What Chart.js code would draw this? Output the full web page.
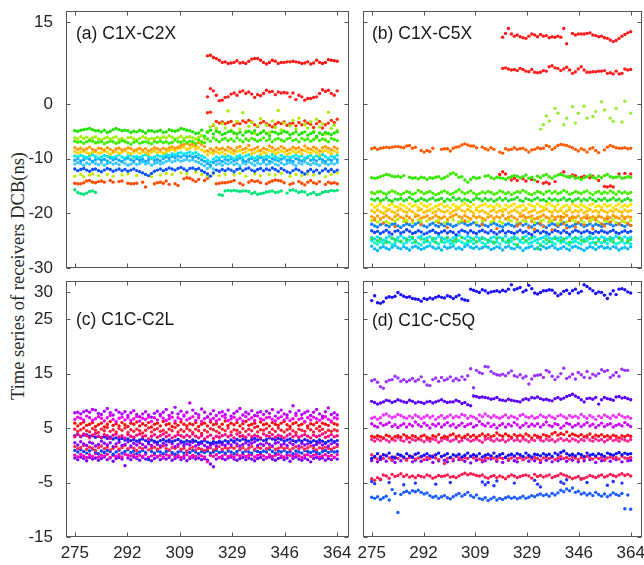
<!DOCTYPE html>
<html>
<head>
<meta charset="utf-8">
<script src="https://cdn.jsdelivr.net/npm/chart.js@4.4.1/dist/chart.umd.min.js"></script>
<style>
  body { margin: 0; background: #fff; width: 644px; height: 565px; overflow: hidden; position: relative; }
  canvas { position: absolute; left: 0; top: 0; }
  .ptitle { position: absolute; font-family: 'Liberation Sans', Arial, sans-serif; font-size: 17.5px; line-height: 17px; color: #1a1a1a; white-space: nowrap; }
  #ytitle { position: absolute; left: 18px; top: 276px; transform: translate(-50%, -50%) rotate(-90deg); font-family: 'Liberation Serif', 'Times New Roman', serif; font-size: 18.5px; color: #262626; white-space: nowrap; }
</style>
</head>
<body>
<div id="ytitle">Time series of receivers DCB(ns)</div>
<canvas id="ca" width="644" height="565"></canvas>
<canvas id="cb" width="644" height="565"></canvas>
<canvas id="cc" width="644" height="565"></canvas>
<canvas id="cd" width="644" height="565"></canvas>
<div class="ptitle" style="left:76px;top:25px">(a) C1X-C2X</div>
<div class="ptitle" style="left:372px;top:25px">(b) C1X-C5X</div>
<div class="ptitle" style="left:76px;top:311px">(c) C1C-C2L</div>
<div class="ptitle" style="left:372px;top:312px">(d) C1C-C5Q</div>
<script>
// day of year, one point per receiver per day
const days = [];
for (let d = 275; d <= 364; d++) days.push(d);
const xTickLabels = ['275', '292', '309', '329', '346', '364'];
const yTicksTop = [15, 0, -10, -20, -30];
const yTicksBottom = [30, 25, 15, 5, -5, -15];

const n = null;
const gap = k => Array(k).fill(null);

// ---- (a) C1X-C2X ----
const aRed1 = [...gap(45),
  8.8,8.9,8.5,8.3,8.0,7.6,7.7,7.4,7.5,7.6,7.9,7.5,7.6,7.4,7.8,8.2,8.3,8.3,8.0,7.6,
  7.3,7.6,8.0,7.8,7.4,7.6,7.6,7.7,7.7,7.8,7.7,7.6,7.4,7.5,7.7,7.3,7.5,8.0,7.6,7.4,
  7.6,8.1,8.0,7.9,7.8];
const aRed2 = [...gap(45),
  1.3,2.8,2.4,1.6,0.6,0.7,1.2,1.3,1.8,2.0,1.6,2.2,2.4,1.9,2.2,1.8,1.2,1.7,1.5,1.9,
  2.5,2.2,2.3,1.7,2.2,2.0,2.1,2.0,1.3,2.0,0.8,1.6,1.3,0.7,1.0,1.0,1.2,1.3,1.9,2.6,
  2.3,2.5,1.9,1.6,2.4];
const aRed3 = [...gap(45),
  -1.6,-1.5,-3.9,-3.2,-3.5,-3.3,-3.6,-3.4,-3.2,-3.9,-3.5,-3.6,-3.1,-3.4,-3.0,-3.3,-3.8,-4.1,-3.5,-3.2,
  -3.6,-3.9,-4.2,-3.7,-3.4,-3.6,-3.3,-3.9,-3.6,-3.5,-4.0,-3.4,-3.8,-3.1,-3.5,-3.7,-4.3,-3.6,-3.2,-4.4,
  -3.8,-3.5,-3.0,-3.4,-2.8];
const aGreen1 = [
  -4.9,-5.0,-4.8,-4.7,-4.6,-4.5,-4.7,-4.9,-4.9,-5.1,-4.8,-5.2,-5.0,-4.7,-4.5,-4.7,-4.9,-4.8,-4.9,-5.2,
  -5.0,-5.1,-4.8,-5.0,-5.3,-4.9,-4.9,-5.1,-5.0,-4.8,-5.2,-5.1,-4.7,-4.9,-5.0,-4.8,-4.5,-4.6,-4.8,-4.9,
  -5.1,-5.4,-5.3,-4.8,-5.9,-5.2,-4.8,-5.5,-5.0,-5.2,-5.6,-5.4,-5.1,-5.0,-5.3,-5.5,-5.2,-5.7,-5.2,-5.0,
  -5.3,-4.9,-5.6,-5.3,-5.0,-5.4,-5.8,-5.1,-5.2,-5.5,-5.3,-5.0,-5.2,-5.6,-5.4,-5.1,-5.6,-5.3,-5.1,-5.7,
  -5.4,-5.2,-5.9,-5.3,-5.6,-5.2,-5.4,-5.6,-5.3,-5.1];
const aLime = [
  -6.2,-6.4,-6.0,-6.3,-6.1,-6.5,-6.2,-6.0,-6.4,-6.6,-6.3,-6.1,-6.4,-6.2,-6.0,-6.5,-6.3,-6.7,-6.2,-6.1,
  -6.4,-6.6,-6.3,-6.0,-6.2,-6.5,-6.3,-6.4,-6.1,-6.3,-6.0,-6.2,-5.8,-6.1,-6.4,-6.2,-5.9,-6.3,-6.1,-6.0,
  -6.2,-6.4,-6.1,-5.8,-6.3,-5.0,-4.2,-3.8,-4.5,-5.1,-3.6,-4.4,-1.3,-4.8,-5.3,-3.2,-4.6,-1.6,-5.0,-4.1,
  -3.4,-5.4,-4.0,-2.7,-4.9,-3.9,-5.2,-3.1,-4.3,-1.2,-4.7,-3.5,-5.1,-4.0,-3.0,-4.6,-2.6,-5.3,-3.8,-4.4,
  -3.3,-5.0,-2.8,-4.2,-3.6,-5.5,-1.5,-4.5,-3.9,-4.8];
const aGreen2 = [
  -6.8,-7.0,-6.9,-7.2,-6.9,-6.7,-6.8,-7.1,-7.0,-6.9,-7.3,-7.0,-6.8,-6.9,-7.2,-7.0,-6.7,-6.9,-7.1,-7.4,
  -7.0,-6.8,-7.2,-7.0,-6.9,-7.1,-7.3,-6.9,-7.0,-6.8,-7.1,-6.9,-7.2,-7.0,-6.6,-6.9,-7.0,-6.7,-7.1,-6.8,
  -6.9,-7.2,-6.6,-6.9,-7.1,-6.4,-6.8,-6.2,-6.6,-6.9,-6.5,-6.3,-6.7,-6.4,-6.8,-6.2,-6.6,-6.9,-6.4,-6.7,
  -6.3,-6.5,-6.8,-6.6,-6.2,-6.7,-6.4,-6.9,-6.5,-6.3,-6.6,-6.8,-6.4,-6.2,-6.7,-6.5,-6.9,-6.3,-6.6,-6.4,
  -6.8,-6.5,-6.2,-6.7,-6.4,-6.6,-6.9,-6.3,-6.5,-6.7];
const aOrange = [
  -8.0,-8.3,-8.1,-8.4,-8.2,-7.9,-8.3,-8.5,-8.1,-8.2,-8.4,-8.0,-8.3,-8.6,-8.2,-8.1,-8.4,-8.3,-8.0,-8.2,
  -8.5,-8.3,-8.1,-8.4,-8.2,-8.6,-8.3,-8.0,-8.2,-8.4,-8.1,-8.3,-8.0,-7.8,-8.1,-7.9,-7.6,-7.4,-7.2,-7.5,
  -7.3,-7.6,-7.1,-7.4,-7.8,-8.6,-8.2,-8.5,-8.0,-8.3,-8.1,-8.4,-7.9,-8.2,-8.5,-8.0,-7.8,-8.3,-8.1,-7.6,
  -8.4,-8.2,-7.9,-8.5,-8.1,-8.3,-7.7,-8.0,-8.4,-8.2,-7.8,-8.1,-8.5,-8.3,-7.9,-8.2,-8.0,-8.4,-7.7,-8.1,
  -8.3,-7.9,-8.2,-8.6,-8.0,-7.8,-8.1,-8.4,-7.9,-8.2];
const aYellow = [
  -8.7,-9.0,-8.8,-8.6,-8.9,-9.1,-8.8,-8.7,-9.0,-8.9,-8.6,-8.8,-9.2,-8.9,-8.7,-9.0,-8.8,-8.5,-8.9,-9.1,
  -8.8,-8.6,-9.0,-8.7,-8.9,-9.2,-8.8,-8.6,-8.9,-8.7,-9.0,-8.8,-8.5,-8.3,-8.6,-8.2,-8.0,-7.9,-8.3,-8.1,
  -7.8,-8.2,-8.0,-8.4,-8.7,-9.3,-8.9,-9.1,-8.7,-9.0,-8.8,-9.2,-8.6,-8.9,-9.1,-8.7,-8.5,-9.0,-8.8,-8.4,
  -9.1,-8.9,-8.6,-9.2,-8.8,-9.0,-8.5,-8.7,-9.1,-8.9,-8.6,-8.8,-9.2,-9.0,-8.6,-8.9,-8.7,-9.1,-8.5,-8.8,
  -9.0,-8.6,-8.9,-9.3,-8.7,-8.5,-8.8,-9.1,-8.6,-8.9];
const aCyan = [
  -9.5,-9.7,-9.4,-9.6,-9.8,-9.5,-9.3,-9.6,-9.9,-9.7,-9.4,-9.6,-9.5,-9.8,-9.6,-9.3,-9.7,-9.9,-9.5,-9.4,
  -9.7,-9.6,-9.8,-9.5,-9.3,-9.6,-9.9,-9.7,-9.4,-9.6,-9.5,-9.2,-9.4,-9.1,-9.3,-9.0,-8.9,-9.2,-9.0,-8.8,
  -9.1,-8.9,-9.3,-9.5,-9.8,-10.3,-10.6,-10.1,-9.7,-9.9,-9.6,-9.8,-9.5,-9.7,-10.0,-9.6,-9.4,-9.8,-9.5,-9.3,
  -9.7,-9.9,-9.6,-9.4,-9.8,-9.5,-9.7,-9.3,-9.6,-9.9,-9.4,-9.7,-9.5,-9.8,-9.6,-9.3,-9.7,-9.5,-9.9,-9.6,
  -9.4,-9.8,-9.5,-9.7,-9.3,-9.6,-9.9,-9.5,-9.7,-9.4];
const aSky = [
  -10.3,-10.0,-10.4,-10.2,-9.9,-10.1,-10.5,-10.2,-10.0,-10.3,-10.1,-10.4,-9.9,-10.2,-10.0,-10.3,-10.5,-10.1,-9.9,-10.2,
  -10.4,-10.0,-10.3,-10.1,-10.5,-10.2,-9.9,-10.3,-10.1,-10.4,-10.0,-9.7,-9.9,-9.6,-9.8,-9.5,-9.7,-9.4,-9.6,-9.5,
  -9.8,-9.6,-9.9,-10.2,-10.5,-10.9,-11.2,-10.7,-10.4,-10.2,-10.5,-10.1,-10.3,-10.0,-10.4,-10.2,-9.9,-10.3,-10.5,-10.1,
  -10.0,-10.4,-10.2,-9.8,-10.3,-10.1,-10.5,-10.0,-10.2,-10.4,-10.1,-9.9,-10.3,-10.2,-10.5,-10.0,-10.2,-10.4,-10.1,-9.8,
  -10.3,-10.1,-10.4,-10.0,-10.2,-10.5,-10.1,-10.3,-9.9,-10.2];
const aLightBlue = [
  -11.0,-10.7,-10.9,-11.2,-10.8,-11.0,-10.6,-10.9,-11.1,-10.8,-11.2,-10.9,-10.7,-11.0,-10.8,-11.1,-10.6,-10.9,-11.2,-11.0,
  -10.7,-11.1,-10.9,-10.6,-11.0,-10.8,-11.2,-10.9,-10.7,-11.0,-10.8,-10.5,-10.3,-10.6,-10.4,-10.2,-10.5,-10.3,-10.1,-10.4,
  -10.2,-10.5,-10.7,-11.0,-11.3,-11.8,-11.5,-11.9,-11.1,-10.9,-11.2,-10.8,-11.0,-10.7,-11.1,-10.9,-11.3,-10.8,-11.0,-10.6,
  -10.9,-11.2,-10.8,-11.0,-10.7,-11.1,-10.9,-10.6,-11.0,-11.2,-10.8,-11.1,-10.9,-10.7,-11.0,-11.3,-10.8,-11.0,-10.6,-10.9,
  -11.1,-10.8,-11.0,-11.2,-10.7,-10.9,-11.1,-10.8,-11.0,-10.7];
const aBlue = [
  -11.9,-12.2,-12.0,-11.8,-12.1,-12.3,-12.0,-11.9,-12.2,-12.4,-12.1,-11.8,-12.0,-12.3,-12.1,-11.9,-12.2,-12.0,-12.3,-12.1,
  -11.9,-12.2,-12.4,-12.6,-12.9,-13.1,-12.7,-12.3,-12.1,-11.9,-12.2,-12.0,-11.7,-11.9,-12.1,-11.8,-11.6,-11.9,-12.2,-11.8,
  -11.7,-12.0,-11.8,-12.2,-12.5,-12.8,-13.2,-12.6,-12.1,-12.3,-12.0,-12.2,-11.9,-12.1,-12.4,-12.0,-11.8,-12.2,-11.9,-11.7,
  -12.1,-12.3,-12.0,-11.8,-12.2,-11.9,-12.1,-11.7,-12.0,-12.3,-11.8,-12.1,-12.4,-12.6,-12.2,-11.9,-12.1,-12.5,-12.8,-12.3,
  -12.0,-12.4,-12.1,-12.6,-12.2,-11.9,-12.3,-12.0,-12.4,-12.1];
const aYG = [
  -13.2,n,-12.9,-13.3,n,-13.0,-12.8,n,-13.1,n,n,-12.9,n,-13.2,n,n,-13.0,n,-12.8,n,
  n,-13.1,n,n,-12.9,n,-13.3,n,n,-13.0,n,-12.7,n,-12.9,n,n,-12.6,n,-12.8,n,
  n,-12.5,n,-12.9,n,-13.2,n,-12.8,n,-13.1,n,-12.9,n,n,-13.0,n,-12.7,n,-13.2,n,
  n,-12.8,n,-13.1,n,n,-12.9,n,-13.0,n,-12.7,n,n,-13.2,n,-12.9,n,-13.1,n,-12.8,
  n,-13.0,n,-12.7,n,-13.3,n,-12.9,n,-12.6];
const aOrRed = [
  -14.5,-14.6,-14.6,-14.4,-14.1,-14.0,-14.3,-14.4,-14.2,-14.1,-14.3,n,-14.0,-14.3,n,-14.2,-14.1,n,-14.5,-14.6,
  -14.6,-14.5,n,-14.3,-15.2,n,n,-14.6,-14.4,-14.3,-14.5,-14.1,-14.7,n,-14.6,-14.9,n,-13.7,-13.5,-13.6,
  -13.9,-14.2,-13.8,n,-14.0,-13.6,n,n,-14.6,-14.5,-14.4,-14.4,-14.3,-14.2,-14.0,n,-14.5,-14.8,n,-14.3,
  -14.0,-14.2,-14.1,-14.4,n,-14.6,-14.3,-14.1,-13.9,-14.0,-14.1,-14.4,n,-14.7,-14.5,n,-14.2,-14.5,-14.8,-14.3,
  -14.0,-14.4,-14.6,-14.2,n,-14.7,-14.3,-14.5,-14.4,-14.6];
const aTeal = [-15.7,-16.2,-16.4,-16.5,-16.3,-16.0,-15.9,-16.2, ...gap(41),
  -16.6,-16.7,-15.9,-15.8,-15.9,-15.8,-15.9,-16.0,-15.9,-15.9,-16.0,-16.4,-16.2,-16.5,-16.4,-16.3,-16.1,-16.0,-15.9,-16.2,
  -16.1,-15.9,n,-16.3,-15.8,-15.7,-15.9,-16.2,-16.0,-16.1,-16.6,-16.4,-16.2,-16.6,-16.5,-16.2,-16.0,-16.0,-15.8,-15.9,-15.8];

// ---- (b) C1X-C5X ----
const bRed1 = [...gap(45),
  12.2,12.9,13.8,12.8,12.4,12.6,12.3,12.1,12.0,12.4,12.8,12.6,12.3,12.7,12.4,12.5,12.1,12.3,12.2,12.4,
  12.2,13.8,11.0,n,12.9,12.6,12.8,12.8,12.8,12.9,13.0,12.6,12.5,12.3,12.4,12.1,12.0,11.7,11.4,11.6,
  12.0,12.4,12.7,13.0,13.2];
const bRed2 = [...gap(45),
  6.5,6.6,6.4,6.2,6.3,6.1,6.5,6.3,6.0,5.9,6.3,5.8,5.7,5.8,6.1,6.0,6.8,7.0,6.6,6.5,
  6.1,6.4,6.7,6.2,5.6,5.9,6.4,6.8,6.2,5.8,5.8,5.9,5.9,6.0,6.0,6.1,5.6,5.7,5.5,6.0,
  5.5,5.6,6.4,6.2,6.3];
const bLime = [...gap(58),
  -4.6,-3.8,-2.2,-3.1,n,-0.8,-1.7,n,-3.8,-2.6,n,-0.5,-3.5,-1.7,n,-0.4,-2.6,n,-2.3,-1.4,
  n,0.4,-1.1,n,-2.6,-3.2,-0.8,n,-3.3,0.5,n,-1.7];
const bOrRed = [
  -8.2,-8.0,-8.3,-8.1,-8.0,-7.9,-8.0,-7.9,-7.8,-7.8,-7.9,-8.0,-7.7,-7.6,-8.1,-7.9,n,-8.5,-8.8,-8.5,
  -8.7,-8.1,n,n,-8.3,-8.2,-8.2,-8.6,-8.1,-7.9,-7.8,-7.5,-7.3,-7.5,-7.7,-7.7,-8.0,n,-7.9,-8.2,
  -8.4,-8.0,-8.3,n,-8.8,-9.0,-8.2,-8.4,-8.3,-8.0,-8.3,-8.2,-8.1,-8.4,-8.8,-8.4,-8.3,-8.0,-8.2,-8.1,
  -7.6,-7.8,-8.3,-8.0,-7.6,-7.4,-7.5,-7.6,-7.8,-8.0,-8.3,-8.6,-8.2,-8.4,-8.8,-8.2,-8.0,-8.5,-8.9,n,
  -8.4,-7.9,-7.6,-7.8,-8.0,-8.1,-8.1,-8.0,-8.2,-8.1];
const bGreen1 = [
  -13.5,-13.6,-13.5,-13.3,-13.1,-12.9,-13.0,-13.2,-13.3,-13.2,-13.4,-13.1,n,-13.4,-13.6,-13.5,-13.7,-13.4,-13.5,-13.8,
  -13.5,-13.6,-13.4,-13.3,-13.7,-13.5,-13.2,-12.8,-12.6,-12.9,-13.4,-13.3,-13.9,-14.3,-13.8,-13.4,-13.6,-13.5,n,-13.2,
  -13.1,-13.5,-13.7,-13.4,-13.5,-13.6,-13.8,-13.5,-13.3,-13.1,-13.2,-13.5,-13.3,-13.0,-13.6,-13.4,-13.9,-13.2,-13.5,-13.1,
  -12.9,-13.3,-13.6,-13.2,-13.0,-12.9,-13.1,-13.3,-13.4,-13.2,-13.6,-13.5,-13.8,-13.5,-13.3,-13.0,-13.4,-13.6,-13.2,-13.5,
  -13.1,-12.9,-13.3,-13.5,-13.4,-13.2,-13.6,-13.5,-13.3,-13.4];
const bRed3 = [...gap(44),
  -12.9,-12.4,-12.8,n,-13.9,-13.6,-14.0,n,-13.7,-14.1,n,-13.8,n,-14.2,n,-14.5,-14.3,-14.6,n,-14.2,
  n,-12.8,-12.4,n,-13.3,-13.0,-13.1,n,-13.4,-13.2,n,-13.5,-13.2,n,-14.0,n,-15.1,-15.2,-15.0,-15.2,
  n,-12.8,n,-12.7,n,-12.8];
const bGreen2 = [
  -16.2,-16.4,-16.1,-16.0,-16.3,-16.5,-16.2,-15.9,-16.1,-16.4,-16.6,-16.3,-16.0,-16.2,-16.5,-16.3,-15.8,-16.1,-16.4,-16.2,
  -16.0,-16.3,-16.6,-16.4,-16.1,-15.9,-16.2,-16.5,-16.3,-16.0,-15.7,-16.1,-16.4,-16.2,-15.9,-16.3,-16.6,-16.4,-16.1,-16.3,
  -16.0,-16.2,-16.5,-16.3,-15.9,-16.1,-16.4,-16.2,-16.6,-16.3,-16.0,-16.2,-15.8,-16.1,-16.4,-16.6,-16.3,-16.0,-16.2,-16.5,
  -16.1,-15.9,-16.3,-16.0,-16.4,-16.2,-15.8,-16.1,-16.5,-16.3,-16.0,-16.2,-16.4,-16.1,-15.9,-16.3,-16.6,-16.2,-16.0,-16.4,
  -16.1,-16.3,-15.9,-16.2,-16.5,-16.0,-16.3,-16.1,-16.4,-16.2];
const bGreen3 = [
  -17.4,-17.6,-17.3,-17.7,-17.5,-17.2,-17.6,-17.8,-17.4,-17.5,-17.3,-17.7,-17.5,-17.1,-17.4,-17.8,-17.6,-17.3,-17.5,-17.7,
  -17.4,-17.2,-17.6,-17.5,-17.3,-17.8,-17.4,-17.6,-17.1,-17.5,-17.3,-17.7,-17.4,-17.6,-17.9,-17.5,-17.2,-17.4,-17.7,-17.3,
  -17.6,-17.4,-17.8,-17.5,-17.2,-17.6,-17.3,-17.7,-17.5,-17.4,-17.1,-17.6,-17.8,-17.3,-17.5,-17.7,-17.4,-17.2,-17.6,-17.5,
  -17.8,-17.3,-17.6,-17.4,-17.7,-17.5,-17.2,-17.6,-17.4,-17.8,-17.5,-17.3,-17.7,-17.4,-17.6,-17.2,-17.5,-17.8,-17.4,-17.6,
  -17.3,-17.7,-17.5,-17.2,-17.6,-17.4,-17.8,-17.5,-17.3,-17.6];
const bYellow = [
  -18.4,-18.9,-18.6,-18.2,-18.8,-19.1,-18.5,-18.3,-18.7,-18.9,-18.4,-18.6,-19.0,-18.3,-18.7,-18.5,-18.9,-18.2,-18.6,-18.8,
  -18.4,-19.1,-18.7,-18.5,-18.3,-18.8,-18.6,-19.0,-18.4,-18.7,-18.9,-18.5,-18.2,-18.6,-18.8,-18.4,-19.0,-18.7,-18.5,-18.3,
  -18.8,-18.6,-18.9,-18.4,-18.7,-19.2,-18.5,-18.8,-18.6,-18.3,-18.9,-18.7,-18.5,-19.0,-18.4,-18.6,-18.8,-18.3,-18.7,-18.9,
  -18.5,-18.2,-18.6,-18.8,-18.4,-19.1,-18.7,-18.5,-18.9,-18.3,-18.6,-18.8,-18.4,-18.7,-19.0,-18.5,-18.3,-18.8,-18.6,-18.9,
  -18.4,-18.7,-18.5,-19.0,-18.6,-18.3,-18.8,-18.5,-18.7,-18.4];
const bGold = [
  -19.5,-19.8,-19.4,-19.7,-20.0,-19.6,-19.3,-19.7,-19.9,-19.5,-19.2,-19.6,-19.8,-19.4,-19.7,-20.1,-19.5,-19.3,-19.8,-19.6,
  -19.4,-19.9,-19.7,-19.3,-19.6,-19.8,-19.5,-20.0,-19.6,-19.4,-19.1,-19.5,-19.7,-19.3,-19.6,-19.9,-19.4,-19.7,-19.5,-19.8,
  -20.1,-19.6,-19.4,-19.8,-19.5,-19.7,-19.3,-19.9,-19.6,-19.4,-19.7,-20.0,-19.5,-19.3,-19.8,-19.6,-19.4,-19.9,-19.7,-19.5,
  -19.2,-19.6,-19.8,-19.4,-19.7,-19.5,-20.0,-19.6,-19.3,-19.8,-19.5,-19.7,-19.4,-19.9,-19.6,-19.3,-19.7,-19.5,-19.8,-19.4,
  -19.6,-19.9,-19.5,-19.7,-19.3,-19.6,-19.8,-19.4,-19.7,-19.5];
const bOrange = [
  -20.6,-20.9,-20.5,-21.0,-20.7,-20.4,-20.8,-21.1,-20.6,-20.3,-20.7,-20.9,-20.5,-20.8,-21.2,-20.6,-20.4,-20.9,-20.7,-20.5,
  -21.0,-20.8,-20.4,-20.7,-20.9,-20.6,-21.1,-20.7,-20.5,-20.2,-20.6,-20.8,-20.4,-20.7,-21.0,-20.5,-20.8,-20.6,-20.9,-21.2,
  -20.7,-20.5,-20.9,-20.6,-20.8,-20.4,-21.0,-20.7,-20.5,-20.8,-21.1,-20.6,-20.4,-20.9,-20.7,-20.5,-21.0,-20.8,-20.6,-20.3,
  -20.7,-20.9,-20.5,-20.8,-20.6,-21.1,-20.7,-20.4,-20.9,-20.6,-20.8,-20.5,-21.0,-20.7,-20.4,-20.8,-20.6,-20.9,-20.5,-20.7,
  -21.0,-20.6,-20.8,-20.4,-20.7,-20.9,-20.5,-20.8,-20.6,-20.7];
const bLime2 = [
  -21.3,n,-21.6,-21.2,n,-21.5,-21.8,n,-21.4,-21.1,n,-21.5,-21.3,n,-21.7,n,-21.2,-21.6,n,-21.4,
  -21.0,n,-21.5,-21.3,n,-21.8,-21.4,n,-21.2,n,-21.6,-21.3,n,-21.5,-21.1,n,-21.7,n,-21.4,-21.2,
  n,-21.6,-21.3,n,-21.5,-21.8,n,-21.2,-21.4,n,-21.6,n,-21.3,-21.5,n,-21.1,-21.7,n,-21.4,-21.2,
  n,-21.5,-21.3,n,-21.8,-21.4,n,-21.6,n,-21.2,-21.5,n,-21.3,-21.7,n,-21.4,-21.1,n,-21.6,n,
  -21.3,-21.5,n,-21.2,-21.7,n,-21.4,-21.6,n,-21.3];
const bOrange2 = [
  n,-21.2,n,n,-21.8,n,n,n,-22.4,n,n,n,-21.5,n,n,n,n,-22.0,n,n,
  n,n,n,-21.7,n,n,-22.6,n,n,n,n,n,-21.4,n,n,n,n,n,-22.1,n,
  n,n,n,-22.8,n,n,n,n,n,n,-22.3,-21.9,-20.5,-20.8,-22.6,-21.4,-22.9,-20.9,-21.8,-22.4,
  -20.7,-21.6,-23.0,-21.1,-22.2,-20.6,-21.9,-22.7,-21.3,-20.8,-22.5,-21.7,n,-22.1,-20.9,-21.5,-22.8,-21.2,-20.6,-21.9,
  -22.3,-21.0,-21.6,n,-20.7,-22.0,-21.4,-20.9,-21.8,-22.2];
const bBlue1 = [
  -22.0,-22.3,-22.5,-22.1,-21.8,-22.2,-22.4,-22.0,-21.9,-22.3,-22.6,-22.2,-21.9,-22.1,-22.4,-22.0,-21.7,-22.1,-22.3,-22.5,
  -22.1,-21.8,-22.2,-22.4,-22.0,-22.3,-21.9,-22.1,-22.4,-22.2,-21.8,-21.6,-21.9,-22.2,-22.0,-21.7,-22.1,-22.3,-21.9,-22.2,
  -22.4,-22.0,-21.8,-22.1,-22.3,-22.5,-22.1,-21.9,-22.2,-22.4,-22.0,-21.8,-22.2,-21.9,-22.3,-22.5,-22.1,-21.8,-22.0,-22.3,
  -22.6,-22.2,-21.9,-22.1,-22.4,-22.0,-21.7,-22.2,-22.5,-22.3,-22.0,-21.8,-22.1,-22.4,-22.2,-21.9,-22.3,-22.0,-22.2,-22.4,
  -22.1,-21.8,-22.0,-22.3,-22.1,-21.9,-22.2,-22.4,-22.0,-22.2];
const bBlue2 = [
  -23.2,-23.5,-23.3,-23.7,-23.4,-23.1,-23.5,-23.8,-23.3,-23.2,-23.6,-23.4,-23.0,-23.3,-23.7,-23.5,-23.2,-23.4,-23.8,-23.6,
  -23.3,-23.1,-23.5,-23.7,-23.4,-23.2,-23.6,-23.3,-23.5,-23.9,-23.4,-23.1,-23.3,-23.6,-23.2,-23.5,-23.7,-23.3,-23.1,-23.4,
  -23.6,-23.2,-23.5,-23.8,-23.4,-23.2,-23.6,-23.3,-23.5,-23.7,-23.4,-23.1,-23.5,-23.3,-23.7,-23.9,-23.4,-23.2,-23.6,-23.3,
  -23.5,-23.8,-23.4,-23.1,-23.3,-23.6,-23.2,-23.5,-23.8,-23.4,-23.1,-23.3,-23.6,-23.4,-23.2,-23.5,-23.7,-23.3,-23.5,-23.2,
  -23.4,-23.6,-23.3,-23.1,-23.5,-23.7,-23.4,-23.2,-23.5,-23.3];
const bGreen4 = [
  -24.6,n,-25.0,-24.7,n,-25.3,n,-24.5,-24.9,n,-25.1,n,-24.8,n,-24.4,-25.2,n,-24.7,n,-25.0,
  n,-24.6,-25.3,n,-24.9,n,-24.5,n,-25.1,-24.8,n,-24.4,n,-25.0,n,-24.7,-25.2,n,-24.6,n,
  -24.9,n,-25.3,-24.5,n,-24.8,n,-25.1,n,-24.7,-25.8,n,-24.6,-25.0,n,-24.4,n,-26.5,-25.9,n,
  -24.8,-25.2,n,-24.6,n,-25.0,-24.7,n,-25.3,n,-24.5,n,-24.9,-25.1,n,-24.6,n,-25.4,-24.8,n,
  -25.0,n,-24.7,-25.2,n,-24.5,-24.9,n,-25.1,-24.8];
const bCyan = [
  -24.4,-24.7,-24.3,-24.6,-24.9,-24.5,-24.2,-24.6,-24.8,-24.4,-24.1,-24.5,-24.7,-24.3,-24.6,-25.0,-24.4,-24.2,-24.7,-24.5,
  -24.3,-24.8,-24.6,-24.2,-24.5,-24.7,-24.4,-24.9,-24.5,-24.3,-24.0,-24.4,-24.6,-24.2,-24.5,-24.8,-24.3,-24.6,-24.4,-24.7,
  -25.0,-24.5,-24.3,-24.7,-24.4,-24.6,-24.2,-24.8,-24.5,-24.3,-24.6,-24.9,-24.4,-24.2,-24.7,-24.5,-24.3,-24.8,-24.6,-24.4,
  -24.1,-24.5,-24.7,-24.3,-24.6,-24.4,-24.9,-24.5,-24.2,-24.7,-24.4,-24.6,-24.3,-24.8,-24.5,-24.2,-24.6,-24.4,-24.7,-24.3,
  -24.5,-24.8,-24.4,-24.6,-24.2,-24.5,-24.7,-24.3,-24.6,-24.4];
const bAqua = [
  -25.0,-25.4,-25.6,-25.2,-25.5,-25.1,-25.3,-25.7,-25.4,-25.0,-25.2,-25.6,-25.3,-24.9,-25.4,-25.2,-25.5,-25.8,-25.3,-25.1,
  -25.4,-25.0,-25.3,-25.6,-25.2,-25.4,-25.1,-25.5,-25.7,-25.2,-25.0,-25.3,-25.6,-25.4,-25.1,-25.5,-25.2,-25.0,-25.4,-25.7,
  -25.3,-25.1,-25.5,-25.2,-25.6,-25.0,-25.3,-25.4,-25.1,-25.6,-25.8,-25.2,-25.4,-25.1,-25.5,-25.3,-25.0,-25.4,-25.7,-25.2,
  -25.5,-25.1,-25.3,-25.6,-25.0,-25.4,-25.2,-25.5,-25.8,-25.3,-25.1,-25.4,-25.6,-25.2,-25.0,-25.5,-25.3,-25.7,-25.1,-25.4,
  -25.2,-25.5,-25.0,-25.3,-25.6,-25.4,-25.1,-25.5,-25.3,-25.6];
const bSky = [
  -26.0,-26.5,-26.8,-26.3,-26.1,-26.4,-26.6,-26.2,-25.9,-26.3,-26.5,-26.1,-26.4,-26.7,-26.2,-26.0,-26.3,-26.6,-26.4,-26.1,
  -25.9,-26.2,-26.5,-26.3,-26.7,-26.1,-26.4,-26.2,-26.0,-26.5,-26.3,-26.6,-26.1,-25.8,-26.2,-26.4,-26.1,-26.5,-26.3,-26.0,
  -26.2,-26.6,-26.4,-26.1,-26.3,-26.7,-26.2,-26.0,-26.4,-26.5,-26.1,-26.3,-26.8,-26.4,-26.2,-26.0,-26.5,-26.3,-26.6,-26.1,
  -26.4,-26.2,-25.9,-26.3,-26.6,-26.4,-26.1,-26.5,-26.7,-26.2,-26.0,-26.3,-26.5,-26.8,-26.4,-26.1,-26.3,-26.6,-26.2,-26.0,
  -26.4,-26.2,-26.5,-26.1,-26.3,-26.7,-26.4,-26.2,-26.5,-26.1];

// ---- (c) C1C-C2L ----
const cViolet1 = [
  7.8,7.9,7.6,8.0,8.2,7.9,8.4,8.3,7.7,7.5,8.1,8.6,7.8,7.4,8.3,7.9,7.6,8.0,7.3,7.8,
  8.2,7.5,7.1,7.6,8.0,7.4,7.0,7.7,8.1,7.5,7.9,8.4,7.3,7.8,8.8,7.6,8.1,7.2,7.9,9.6,
  8.3,7.7,7.4,8.5,7.9,7.1,7.6,8.2,7.3,7.8,8.0,7.5,8.3,7.2,7.7,8.1,8.6,7.4,7.9,7.6,
  8.2,7.3,7.8,8.0,7.5,8.1,7.7,8.4,7.2,7.9,8.3,7.6,7.4,8.0,9.1,7.7,8.2,7.5,7.8,8.1,
  7.3,7.9,8.4,7.6,7.2,8.0,8.7,7.5,7.8,7.4];
const cMagenta = [
  6.6,7.0,6.8,6.5,7.2,6.9,6.4,6.7,7.1,6.8,6.3,6.9,7.3,6.6,6.2,6.8,7.0,6.5,6.9,6.4,
  6.7,7.1,6.3,6.8,6.6,7.0,6.2,6.9,6.5,7.2,6.8,6.4,6.7,7.0,6.3,6.9,6.6,7.4,6.5,6.8,
  7.1,6.4,6.9,6.2,6.7,7.0,6.5,6.8,6.3,6.6,7.2,6.9,6.4,6.7,7.0,6.5,6.8,6.3,7.1,6.6,
  6.9,6.4,7.2,6.7,6.5,6.9,7.0,6.6,6.3,6.8,7.1,6.5,6.9,6.4,6.7,7.3,6.6,6.8,6.2,6.9,
  6.5,7.0,6.7,6.4,6.8,7.1,6.6,6.3,6.9,6.7];
const cRed1 = [
  5.9,5.4,5.8,6.1,5.5,5.7,6.0,5.3,5.6,5.9,5.2,5.7,6.2,5.5,5.8,5.4,6.0,5.6,5.3,5.9,
  5.7,6.1,5.4,5.8,5.5,6.0,5.2,5.7,5.9,5.4,6.2,5.6,5.8,5.3,5.9,5.5,6.1,5.7,5.4,5.8,
  5.6,6.0,5.3,5.7,5.9,5.4,6.1,5.6,5.8,5.2,5.7,6.3,5.5,5.9,5.6,6.0,5.4,5.8,6.2,5.5,
  5.7,5.9,5.3,6.1,5.6,5.8,5.4,6.0,5.7,5.5,5.9,6.2,5.6,5.3,5.8,6.0,5.5,5.7,6.1,5.4,
  5.8,5.6,6.0,5.3,5.9,5.7,5.5,6.1,5.8,5.6];
const cRed2 = [
  4.8,4.4,4.7,5.0,4.5,4.3,4.9,4.6,4.2,4.8,4.5,5.1,4.4,4.7,4.3,4.9,4.6,5.0,4.2,4.7,
  4.4,4.8,4.5,4.1,4.6,5.0,4.3,4.7,4.9,4.4,4.6,4.2,4.8,4.5,5.1,4.3,4.7,4.4,4.9,4.6,
  4.2,4.8,4.5,4.0,4.6,4.3,4.9,4.7,4.4,4.1,4.8,4.5,5.0,4.3,4.7,4.6,4.2,4.9,4.4,4.8,
  4.5,5.1,4.3,4.7,4.6,4.9,4.2,4.8,4.4,5.0,4.6,4.3,4.7,4.9,4.5,4.2,4.8,4.6,4.4,5.0,
  4.7,4.3,4.9,4.5,4.8,4.2,4.6,4.4,4.7,4.5];
const cPink = [
  3.4,3.8,3.5,3.9,3.6,3.2,3.7,4.0,3.5,3.3,3.8,3.6,3.1,3.7,3.9,3.4,3.6,3.2,3.8,3.5,
  3.3,3.7,3.9,3.4,3.6,3.0,3.5,3.8,3.3,3.6,3.9,3.4,3.7,3.2,3.5,3.8,3.6,3.3,3.7,3.4,
  3.9,3.5,3.2,3.6,3.0,3.4,3.7,3.1,3.5,3.3,3.6,3.8,3.4,3.7,3.2,3.9,3.5,3.6,3.3,3.8,
  3.4,3.7,3.5,3.2,3.9,3.6,3.4,3.8,3.3,3.7,3.5,3.2,3.6,3.9,3.4,3.7,3.3,3.6,3.8,3.5,
  3.2,3.7,3.4,3.6,3.9,3.3,3.5,3.8,3.4,3.6];
const cBlue1 = [
  3.6,3.9,3.4,3.7,3.8,3.5,3.6,3.3,3.5,3.2,3.4,3.1,3.3,3.0,3.2,2.9,3.1,2.8,3.0,2.7,
  2.9,2.6,2.8,3.0,2.7,2.5,2.8,2.6,2.4,2.7,2.9,2.6,2.8,2.5,2.7,2.9,2.6,2.4,2.7,2.5,
  2.8,2.6,2.3,2.5,2.7,2.4,2.2,2.5,2.3,2.6,2.4,2.7,2.5,2.8,2.6,2.9,2.7,3.0,2.8,2.6,
  2.9,3.1,2.8,3.0,2.7,2.9,3.2,3.0,2.8,3.1,2.9,2.6,2.8,3.0,2.7,2.5,2.8,2.6,2.9,2.7,
  2.4,2.7,2.5,2.8,2.6,2.3,2.6,2.8,2.5,2.7];
const cViolet2 = [
  2.3,1.9,2.5,2.1,1.8,2.4,2.2,1.7,2.0,2.6,2.2,1.9,2.3,1.6,2.1,2.4,1.8,2.0,2.5,1.7,
  2.2,1.9,2.3,2.0,1.5,2.1,1.8,2.4,2.0,1.7,2.2,1.9,2.5,2.1,1.6,2.0,2.3,1.8,2.1,1.9,
  2.4,1.7,2.0,2.2,1.8,1.5,1.9,2.1,1.7,2.3,2.0,1.8,2.2,1.9,2.4,2.1,1.7,2.0,2.3,1.9,
  2.2,2.5,1.8,2.1,1.9,2.3,2.0,1.7,2.2,2.4,1.9,2.1,1.8,2.3,2.0,2.5,1.7,2.2,1.9,2.1,
  2.4,1.8,2.0,2.3,1.9,2.2,1.7,2.1,2.4,2.0];
const cRedPink = [
  1.6,1.2,1.4,1.8,1.1,1.5,1.3,0.9,1.4,1.7,1.2,1.5,1.0,1.3,1.6,1.1,1.4,1.8,1.2,1.5,
  1.3,0.9,1.4,1.2,1.6,1.0,1.3,1.5,1.1,1.4,1.7,1.2,1.0,1.4,1.3,1.6,1.1,1.3,0.8,1.2,
  1.5,1.0,1.3,1.1,0.9,1.2,1.4,1.0,1.3,1.6,1.1,1.4,1.2,1.5,1.3,1.7,1.2,1.4,1.0,1.3,
  1.6,1.1,1.5,1.3,1.8,1.2,1.4,1.6,1.1,1.3,1.5,1.2,1.4,1.0,1.3,1.6,1.2,1.5,1.1,1.4,
  1.7,1.3,1.0,1.4,1.2,1.5,1.3,1.1,1.4,1.6];
const cBlue2 = [
  0.9,0.6,1.0,0.7,0.4,0.8,1.1,0.6,0.3,0.8,0.5,0.9,0.7,0.2,0.6,0.9,0.4,0.7,1.0,0.5,
  0.8,0.3,0.6,0.9,0.5,-0.8,0.7,0.4,0.8,0.6,0.3,0.7,0.9,0.5,0.2,0.6,0.8,0.4,0.7,0.5,
  0.9,0.6,0.3,0.7,0.5,0.8,0.4,0.6,0.9,0.5,0.7,0.4,0.8,0.6,0.3,0.7,1.0,0.5,0.8,0.6,
  0.4,0.9,0.7,0.5,0.8,0.6,1.1,0.7,0.4,0.8,0.6,0.9,0.5,0.7,0.3,0.8,0.6,0.4,0.9,0.7,
  0.5,0.8,0.6,0.3,0.7,0.9,0.5,0.8,0.6,0.7];
const cPinkMag = [
  0.0,-0.3,0.2,-0.1,-0.4,0.1,-0.2,0.3,-0.3,0.0,-0.1,0.2,-0.4,0.0,-0.2,0.1,-0.3,0.2,0.0,-0.1,
  0.1,-0.3,0.0,-0.2,0.2,-0.4,-0.1,0.1,-0.2,0.0,-0.3,0.1,-0.1,0.2,-0.2,0.0,-0.4,-0.1,0.1,-0.3,
  0.0,-0.2,0.2,-0.1,-0.3,-1.2,0.0,-0.2,0.1,-0.4,-0.1,0.2,-0.2,0.0,-0.3,0.1,-0.1,0.2,-0.2,0.0,
  0.1,-0.3,0.0,0.2,-0.1,-0.4,0.1,-0.2,0.0,0.2,-0.1,-0.3,0.1,0.0,-0.2,0.2,-0.1,-0.4,0.0,0.1,
  -0.2,0.0,0.2,-0.3,-0.1,0.1,-0.2,0.0,-0.4,0.1];
const cViolet3 = [
  -0.5,-0.8,-0.3,-0.6,-1.0,-0.4,-0.7,-0.5,-0.9,-0.6,-0.3,-0.8,-0.5,-1.1,-0.6,-0.4,-0.7,-1.9,-0.5,-0.8,
  -0.3,-0.6,-0.9,-0.4,-0.7,-0.5,-1.0,-0.6,-0.3,-0.8,-0.5,-0.7,-0.4,-0.9,-0.6,-0.3,-0.8,-0.5,-1.0,-0.6,
  -0.4,-0.7,-0.5,-0.8,-0.6,-0.9,-1.6,-2.1,-0.7,-0.4,-0.6,-0.8,-0.5,-0.3,-0.7,-0.9,-0.6,-0.4,-0.8,-0.5,
  -0.7,-1.0,-0.6,-0.4,-0.8,-0.5,-0.3,-0.7,-0.9,-0.6,-0.4,-0.8,-0.5,-1.1,-0.6,-0.3,-0.7,-0.9,-0.5,-0.8,
  -1.2,-0.6,-0.4,-0.7,-0.5,-0.9,-0.6,-0.8,-0.4,-0.7];

// ---- (d) C1C-C5Q ----
const dBlue1 = [
  28.4,29.3,28.0,27.9,28.2,28.9,29.1,29.0,29.2,29.9,29.5,29.2,29.0,29.1,28.8,28.7,28.6,28.3,28.8,28.6,
  28.9,28.7,29.0,29.2,29.0,28.9,29.3,29.1,28.8,29.1,29.4,28.7,28.5,28.4,30.5,30.3,30.1,29.9,30.4,30.2,
  29.8,30.0,30.1,30.2,30.0,30.3,30.1,30.5,31.3,30.4,30.6,30.8,30.0,30.3,31.2,30.6,29.8,29.6,29.9,30.2,
  30.2,30.4,30.3,29.8,29.3,29.6,30.1,30.3,29.7,30.2,30.5,29.8,30.1,31.3,31.0,30.6,30.2,29.7,30.0,29.9,
  29.4,28.8,29.6,30.2,29.5,30.5,30.6,30.4,30.0,29.8];
const dViolet1 = [
  13.7,13.9,13.4,12.6,12.3,13.5,13.8,13.9,14.5,14.2,13.6,13.9,13.5,13.8,14.1,13.6,13.9,14.4,13.5,12.9,
  12.8,13.9,14.2,13.6,14.3,13.8,14.0,14.4,13.7,14.1,13.8,14.4,13.9,14.6,15.9,12.4,15.6,15.2,15.0,16.3,
  16.2,15.4,15.0,14.8,14.7,14.9,14.6,15.1,15.5,14.6,14.4,14.8,14.2,14.5,13.1,14.0,14.6,14.7,14.8,14.3,
  15.6,15.3,14.5,13.9,14.4,15.0,16.0,14.1,14.4,14.9,14.0,15.2,14.8,14.3,15.4,14.2,14.9,14.6,15.0,15.7,
  15.4,15.6,14.3,14.7,15.2,14.5,15.8,15.6,15.6];
const dIndigo = [
  9.9,9.7,9.4,9.6,9.8,10.1,10.0,9.7,9.9,10.2,10.0,9.8,9.7,10.1,9.9,9.6,9.8,9.7,9.5,9.8,
  9.9,9.6,9.8,10.0,10.2,9.9,9.7,9.8,9.8,10.1,9.9,9.5,9.7,9.3,9.1,10.9,10.8,10.6,10.7,10.6,
  10.5,10.3,10.4,10.6,10.2,10.1,10.0,10.3,10.1,10.0,9.9,9.8,10.2,10.4,10.2,10.6,10.5,10.7,10.4,10.2,
  10.3,10.1,10.0,10.4,10.6,10.3,10.5,10.8,11.0,11.2,10.9,10.6,10.2,9.8,10.4,10.5,10.3,10.6,9.4,10.2,
  10.6,10.4,10.3,10.1,10.7,10.8,10.5,10.6,10.4,10.2];
const dMagenta1 = [
  6.8,7.0,6.6,6.9,7.4,7.6,7.2,6.9,7.1,7.5,7.3,7.0,6.8,7.2,6.9,7.4,7.1,6.7,7.0,7.3,
  6.9,7.2,6.6,7.0,7.3,6.8,7.1,7.4,6.9,7.2,7.0,7.5,7.3,6.8,7.2,7.0,6.7,7.4,7.1,7.6,
  7.2,6.9,7.3,7.0,6.8,7.1,7.4,6.9,7.2,7.0,6.7,7.3,7.5,7.1,6.9,7.2,6.8,7.0,7.4,7.1,
  6.9,7.3,7.0,6.7,7.2,7.4,7.1,6.8,7.3,7.0,7.2,6.9,7.5,7.1,6.8,7.3,7.0,6.6,7.2,6.9,
  7.4,7.1,6.8,7.3,7.0,7.5,7.2,6.9,7.1,6.8];
const dMagenta2 = [
  5.8,5.4,5.2,5.9,5.5,5.7,6.0,5.3,5.6,5.1,5.5,5.8,5.2,5.7,5.4,6.1,5.6,5.3,5.9,5.5,
  5.0,5.7,5.4,5.8,5.2,5.6,6.0,5.4,5.7,5.1,5.5,5.9,5.3,5.6,5.8,5.2,5.5,6.2,5.7,5.4,
  5.9,5.3,5.6,5.0,5.5,5.8,5.2,5.7,5.4,6.0,5.6,5.1,5.5,5.9,5.3,5.7,5.4,5.8,5.2,5.6,
  6.1,5.5,5.3,5.8,5.6,5.0,5.4,5.9,5.7,5.2,5.5,5.8,5.3,5.6,6.0,5.4,5.7,5.1,5.5,5.9,
  5.3,5.6,5.8,5.2,5.5,5.7,5.4,6.0,5.6,5.3];
const dRed = [
  3.5,3.3,3.6,3.4,3.2,3.7,3.5,3.1,3.4,3.6,3.3,3.8,3.5,3.2,3.6,3.4,3.0,3.5,3.7,3.3,
  3.1,3.6,3.4,3.8,3.2,3.5,3.3,3.7,3.9,3.4,3.6,3.2,3.5,3.8,3.4,3.7,3.3,3.6,3.9,3.5,
  3.8,3.4,3.6,4.1,3.7,3.5,3.9,3.6,3.3,3.8,3.5,3.7,3.4,3.9,3.6,3.2,3.7,3.5,3.3,3.8,
  3.6,3.4,3.9,4.2,3.7,4.0,3.8,4.3,3.6,3.9,3.7,3.5,3.8,3.4,3.6,3.9,3.3,3.7,3.5,3.8,
  3.4,3.6,3.3,3.7,3.5,3.2,3.6,3.4,3.7,3.5];
const dPink = [
  2.9,2.6,3.0,2.7,3.1,2.8,2.5,2.9,2.7,3.2,2.8,2.6,3.0,2.4,2.9,2.7,3.1,2.8,2.5,2.9,
  2.6,3.0,2.8,2.4,2.7,3.1,2.9,2.6,2.8,3.0,2.5,2.7,3.2,2.9,2.6,2.8,3.0,2.7,2.4,2.9,
  3.1,2.8,2.6,3.0,2.7,2.9,2.5,2.8,3.1,2.7,2.9,2.6,3.0,2.8,2.5,2.9,2.7,3.2,2.8,2.6,
  3.0,2.7,2.9,2.5,2.8,3.1,2.7,2.9,2.6,3.0,2.8,2.5,2.9,2.7,3.2,2.8,2.6,3.0,2.7,2.9,
  2.5,2.8,3.1,2.7,2.9,2.6,3.0,2.8,2.6,2.9];
const dBlue2 = [
  -0.6,-0.2,0.3,-0.4,0.1,-0.1,0.4,-0.3,-0.5,0.2,0.0,-0.3,0.3,-0.1,-0.4,0.2,0.4,-0.2,0.0,0.3,
  -0.1,-0.3,0.1,0.4,-0.2,0.0,0.3,-0.4,0.1,-0.1,0.2,-0.3,0.0,0.4,-0.2,0.1,-0.1,0.3,-0.3,0.0,
  0.2,-0.1,0.4,-0.2,0.1,0.3,-0.4,0.0,0.2,-0.1,0.3,0.1,-0.2,0.4,0.0,-0.3,0.2,0.1,-0.1,0.3,
  0.0,0.2,-0.2,0.4,0.1,0.5,0.8,0.3,0.0,0.2,-0.1,0.3,0.1,-0.2,0.4,0.0,0.2,-0.1,0.3,0.1,
  -0.2,0.4,0.2,0.0,0.3,0.5,0.1,0.4,0.2,0.3];
const dPinkRed = [
  0.1,-0.4,-0.7,-0.2,-0.6,0.0,-0.5,-0.8,-0.3,-0.6,-0.1,-0.5,-0.9,-0.4,-0.2,-0.7,-0.5,-0.3,-0.8,-0.4,
  -0.6,-0.1,-0.5,-0.8,-0.3,-1.5,-0.6,-0.4,-0.7,-0.2,-0.5,-0.8,-0.4,-0.6,-0.1,-0.5,-0.3,-0.7,-0.9,-0.4,
  -0.6,-0.2,-0.5,-0.8,-0.4,-0.6,-0.3,-0.7,-0.5,-0.2,-0.6,-0.4,-0.8,-0.5,-0.3,-0.7,-0.4,-0.6,-0.9,-0.5,
  -0.3,-0.6,-0.4,-0.8,-0.5,-0.2,-0.6,-0.4,-0.7,-0.3,-0.5,-0.8,-0.4,-0.6,-0.2,-0.5,-0.7,-0.3,-0.6,-0.4,
  -0.8,-0.5,-0.3,-0.6,-0.4,-0.7,-0.2,-0.5,-0.6,-0.4];
const dViolet2 = [
  -1.0,n,-1.2,-0.8,n,-1.1,n,-0.9,-1.3,n,-1.0,n,-0.7,n,-1.2,-0.9,n,-1.1,n,-0.8,
  n,-1.3,n,-1.0,n,-0.9,-1.2,n,-1.0,n,-0.8,n,-1.1,n,-1.4,n,-0.9,n,-1.2,-1.0,
  n,-0.7,n,-1.1,n,-1.3,n,-0.9,n,-1.0,-1.2,n,-0.8,n,-1.1,n,-1.0,n,-1.3,n,
  -0.9,n,-1.2,n,-1.0,-0.7,n,-1.1,n,-0.9,n,-1.2,n,-1.0,n,-0.8,n,-1.3,n,-1.0,
  -0.9,n,-1.1,n,-0.8,n,-1.2,n,-1.0,-0.9];
const dRedPink = [
  -4.3,-4.6,-4.1,-4.4,-3.6,-3.8,-4.2,-3.5,-3.9,-3.7,-3.4,-3.9,-3.6,-4.0,-3.8,-4.1,-3.7,-3.9,-4.0,-3.6,
  -3.8,-4.2,-4.0,-3.7,-3.9,-3.8,-3.6,-4.0,-3.9,-4.1,-3.8,-3.5,-3.3,-3.6,-3.4,-3.5,-3.7,-3.8,-3.6,-4.0,
  -4.2,-3.9,-3.7,-4.1,-3.8,-4.0,-4.3,-3.9,-3.6,-3.8,-4.1,-3.9,-3.7,-3.6,-3.8,-4.2,-3.5,-3.9,-3.7,-4.0,
  -3.8,-3.6,-4.1,-3.9,-3.7,-3.4,-3.6,-3.8,-4.0,-4.3,-4.1,-3.9,-4.4,-4.2,-4.0,-3.7,-3.9,-4.1,-3.8,-3.6,
  -4.0,-3.8,-3.5,-3.7,-3.9,-3.6,-3.4,-3.7,-3.5,-3.8];
const dBlue3 = [
  -4.8,-5.2,n,-4.5,n,n,-5.0,n,n,n,n,-5.4,n,n,n,-5.1,n,n,n,n,
  n,n,-5.3,n,n,n,n,-5.0,n,n,n,n,n,n,n,n,n,n,-4.9,-5.4,
  -5.0,n,-5.6,-4.7,n,n,n,n,n,-5.1,n,n,n,n,n,n,-4.6,-5.3,-5.8,n,
  n,n,n,n,n,-4.9,-5.2,-4.5,n,n,n,n,-4.3,n,-5.0,n,n,n,n,n,
  n,-5.5,n,-4.8,n,n,-5.1,n,n,n];
const dBlue4 = [
  -7.7,-7.9,-7.6,-8.1,-7.8,-7.5,-8.2,-6.3,-7.0,-10.5,-7.2,-6.8,-6.6,-6.9,-6.5,-6.7,-6.4,-6.8,-7.1,-6.9,
  -7.4,-7.7,-7.5,-7.9,-7.6,-7.4,-7.8,-8.0,-7.6,-7.3,-7.0,-7.5,-7.2,-6.8,-7.4,-7.7,-7.3,-7.9,-8.1,-7.8,
  -8.3,-8.0,-7.7,-8.2,-7.9,-8.1,-7.8,-7.6,-7.9,-7.7,-8.0,-7.8,-7.5,-7.9,-7.7,-7.4,-7.6,-7.3,-7.1,-7.4,
  -7.2,-7.5,-7.0,-7.3,-6.9,-6.4,-6.7,-6.2,-6.5,-6.0,-6.8,-6.6,-7.1,-6.9,-7.3,-7.0,-7.4,-6.8,-7.2,-7.5,
  -7.1,-7.6,-7.3,-6.9,-7.2,-7.4,-7.0,-9.8,-7.3,-9.9];

// receiver series and their colours, drawn in this order
const panelA = [
  [aGreen1, '#22e000'], [aGreen2, '#3cec00'], [aLime, '#9ef000'], [aOrange, '#ff9a00'], [aYellow, '#ffd400'],
  [aCyan, '#00e6f0'], [aSky, '#0aa8ff'], [aLightBlue, '#38c8ff'], [aBlue, '#0b52ff'], [aYG, '#bfee00'],
  [aOrRed, '#ff4a00'], [aTeal, '#00e47a'], [aRed3, '#ff3000'], [aRed2, '#ff1c1c'], [aRed1, '#ff1414']
];
const panelB = [
  [bOrRed, '#ff5a00'], [bGreen1, '#36e800'], [bRed3, '#ff1a1a'], [bGreen2, '#44ee00'], [bGreen3, '#22dd22'],
  [bYellow, '#ffe400'], [bGold, '#ffc400'], [bOrange, '#ff9c00'], [bLime2, '#b4ee00'], [bOrange2, '#ff6e00'],
  [bBlue1, '#0a80ff'], [bBlue2, '#0a46ff'], [bGreen4, '#33dd44'], [bCyan, '#00def8'], [bAqua, '#00f5d0'],
  [bSky, '#00b8ff'], [bLime, '#99ee33'], [bRed2, '#ff1c1c'], [bRed1, '#ff1a1a']
];
const panelC = [
  [cViolet1, '#b400ff'], [cMagenta, '#f000f0'], [cRed1, '#ff0a0a'], [cRed2, '#ff1f3d'], [cPink, '#ff0080'],
  [cBlue1, '#1a1aff'], [cViolet2, '#8c00ff'], [cRedPink, '#ff2455'], [cBlue2, '#0a40ff'], [cPinkMag, '#ff00b4'],
  [cViolet3, '#7a00ff']
];
const panelD = [
  [dBlue1, '#1a0dff'], [dViolet1, '#9933ff'], [dIndigo, '#5a00ff'], [dMagenta1, '#ee33ff'], [dMagenta2, '#cc00ff'],
  [dRed, '#ff0a14'], [dPink, '#ff2299'], [dBlue2, '#0d0dff'], [dPinkRed, '#ff2060'], [dViolet2, '#8000ff'],
  [dRedPink, '#ff1a4d'], [dBlue3, '#2233ff'], [dBlue4, '#1a5cff']
];

const textColor = '#262626';
const axisColor = '#555555';
const xTickPos = xTickLabels.map((_, k) => 275 + k * (364 - 275) / 5);

function pts(vals) {
  const out = [];
  vals.forEach((v, i) => { if (v !== null && v !== undefined) out.push({ x: days[i], y: v }); });
  return out;
}

// box round the plot area with MATLAB style inward ticks
const frame = {
  id: 'frame',
  afterDraw(chart, args, opts) {
    const { ctx, chartArea: a, scales: { x, y } } = chart;
    ctx.save();
    ctx.strokeStyle = axisColor;
    ctx.lineWidth = 1;
    const L = Math.round(a.left) + 0.5, R = Math.round(a.right) - 0.5;
    const T = Math.round(a.top) + 0.5, B = Math.round(a.bottom) - 0.5;
    ctx.strokeRect(L, T, R - L, B - T);
    ctx.beginPath();
    xTickPos.forEach(v => {
      const p = Math.round(x.getPixelForValue(v)) + 0.5;
      ctx.moveTo(p, B); ctx.lineTo(p, B - 4);
      ctx.moveTo(p, T); ctx.lineTo(p, T + 4);
    });
    opts.yTicks.forEach(v => {
      const p = Math.round(y.getPixelForValue(v)) + 0.5;
      ctx.moveTo(L, p); ctx.lineTo(L + 4, p);
      ctx.moveTo(R, p); ctx.lineTo(R - 4, p);
    });
    ctx.stroke();
    ctx.restore();
  }
};

function makePanel(id, series, cfg) {
  new Chart(document.getElementById(id), {
    type: 'scatter',
    data: {
      datasets: series.map(([vals, color]) => ({
        data: pts(vals),
        backgroundColor: color,
        borderColor: color,
        pointRadius: 1.7,
        pointBorderWidth: 0,
        pointHoverRadius: 0
      }))
    },
    options: {
      responsive: false,
      animation: false,
      events: [],
      layout: { padding: cfg.padding },
      plugins: { legend: { display: false }, tooltip: { enabled: false }, frame: { yTicks: cfg.yTicks } },
      scales: {
        x: {
          type: 'linear', min: 272, max: 368,
          display: cfg.showX,
          grid: { display: false, drawTicks: false },
          border: { display: false },
          afterBuildTicks: s => { s.ticks = xTickPos.map(v => ({ value: v })); },
          ticks: {
            autoSkip: false, maxRotation: 0, padding: 6, color: textColor,
            font: { family: 'Liberation Sans', size: 17 },
            callback: (v, i) => xTickLabels[i]
          },
          afterFit: s => { s.height = cfg.showX ? 28 : 0; s.paddingLeft = 0; s.paddingRight = 0; }
        },
        y: {
          type: 'linear', min: cfg.yMin, max: cfg.yMax,
          display: cfg.showY,
          grid: { display: false, drawTicks: false },
          border: { display: false },
          afterBuildTicks: s => { s.ticks = cfg.yTicks.map(v => ({ value: v })); },
          ticks: { padding: 13, color: textColor, font: { family: 'Liberation Sans', size: 17 } },
          afterFit: s => { s.width = cfg.showY ? 66 : 0; s.paddingTop = 0; s.paddingBottom = 0; }
        }
      }
    },
    plugins: [frame]
  });
}

makePanel('ca', panelA, { padding: { left: 0, top: 11, right: 295, bottom: 297 }, showX: false, showY: true, yMin: -30, yMax: 17, yTicks: yTicksTop });
makePanel('cb', panelB, { padding: { left: 363, top: 11, right: 1, bottom: 297 }, showX: false, showY: false, yMin: -30, yMax: 17, yTicks: yTicksTop });
makePanel('cc', panelC, { padding: { left: 0, top: 281, right: 295, bottom: 0 }, showX: true, showY: true, yMin: -15, yMax: 32, yTicks: yTicksBottom });
makePanel('cd', panelD, { padding: { left: 363, top: 281, right: 1, bottom: 0 }, showX: true, showY: false, yMin: -15, yMax: 32, yTicks: yTicksBottom });
</script>
</body>
</html>
